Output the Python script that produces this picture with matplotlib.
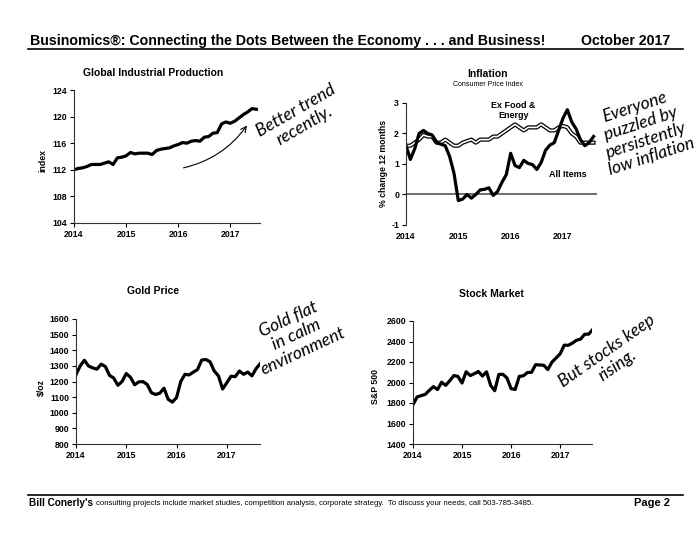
import numpy as np
import matplotlib
matplotlib.use("Agg")
import matplotlib.pyplot as plt

plt.rcParams['font.family'] = ['Liberation Sans', 'DejaVu Sans']
plt.rcParams['axes.unicode_minus'] = False

# Data (monthly, starting Jan 2014)
ip_index = [112.0, 112.2, 112.3, 112.5, 112.8, 112.8, 112.8, 113.0, 113.2, 112.8, 113.8, 113.9,
            114.1, 114.6, 114.4, 114.5, 114.5, 114.5, 114.3, 114.9, 115.1, 115.2, 115.3, 115.6,
            115.8, 116.1, 116.0, 116.3, 116.4, 116.3, 116.9, 117.0, 117.5, 117.6, 118.9, 119.2,
            119.0, 119.3, 119.8, 120.3, 120.7, 121.2, 121.1]

cpi_all = [1.6, 1.15, 1.5, 2.0, 2.1, 2.0, 1.95, 1.7, 1.65, 1.6, 1.25, 0.7,
           -0.2, -0.15, 0.0, -0.12, 0.0, 0.15, 0.17, 0.22, -0.03, 0.1, 0.4, 0.65,
           1.35, 0.95, 0.88, 1.12, 1.02, 0.98, 0.82, 1.05, 1.45, 1.62, 1.7, 2.1,
           2.5, 2.78, 2.38, 2.15, 1.8, 1.6, 1.7, 1.9]
cpi_core = [1.6, 1.6, 1.7, 1.8, 1.95, 1.9, 1.9, 1.7, 1.7, 1.8, 1.7, 1.6,
            1.6, 1.7, 1.75, 1.8, 1.7, 1.8, 1.8, 1.8, 1.9, 1.9, 2.0, 2.1,
            2.2, 2.3, 2.2, 2.1, 2.2, 2.2, 2.2, 2.3, 2.2, 2.1, 2.1, 2.2,
            2.25, 2.2, 2.0, 1.9, 1.7, 1.7, 1.7, 1.7]

gold = [1244, 1300, 1336, 1299, 1287, 1279, 1311, 1296, 1239, 1222, 1176, 1200,
        1251, 1227, 1179, 1198, 1199, 1181, 1128, 1117, 1125, 1157, 1086, 1068,
        1097, 1200, 1246, 1242, 1260, 1276, 1337, 1341, 1326, 1267, 1236, 1152,
        1192, 1234, 1231, 1267, 1246, 1260, 1236, 1283, 1315]

sp500 = [1783, 1859, 1872, 1884, 1924, 1960, 1931, 2003, 1972, 2018, 2068, 2059,
         1995, 2105, 2068, 2086, 2107, 2063, 2104, 1972, 1920, 2079, 2080, 2044,
         1940, 1932, 2060, 2065, 2097, 2099, 2174, 2171, 2168, 2126, 2199, 2239,
         2279, 2364, 2363, 2384, 2412, 2423, 2470, 2472, 2519]

years = [2014, 2015, 2016, 2017]

W, H = 700, 541
fig = plt.figure(figsize=(7, 5.41), dpi=100)


def box(l, t, r, b):
    return [l / W, 1 - b / H, (r - l) / W, (b - t) / H]


def ft(x, y, s, **kw):
    fig.text(x / W, 1 - y / H, s, **kw)


def months(vals):
    return 2014 + np.arange(len(vals)) / 12


def style(ax, yticks, xmax):
    ax.set_xlim(2014, xmax)
    ax.set_ylim(yticks[0], yticks[-1])
    ax.set_yticks(yticks)
    ax.set_xticks(years)
    for s in ['top', 'right']:
        ax.spines[s].set_visible(False)
    for s in ['left', 'bottom']:
        ax.spines[s].set_linewidth(0.8)
        ax.spines[s].set_color('#333333')
    ax.tick_params(length=3, width=0.8, pad=2, labelsize=6.3)
    for lab in ax.get_xticklabels() + ax.get_yticklabels():
        lab.set_fontweight('bold')
    ax.patch.set_alpha(0)


# Header
ft(30, 41, "Businomics\u00ae: Connecting the Dots Between the Economy . . . and Business!",
   fontsize=10.2, fontweight='bold', va='center', ha='left')
ft(670, 41, "October 2017", fontsize=10.2, fontweight='bold', va='center', ha='right')
fig.add_artist(plt.Line2D([28 / W, 683 / W], [1 - 49 / H, 1 - 49 / H], color='black', lw=1.2))

# Footer
fig.add_artist(plt.Line2D([28 / W, 683 / W], [1 - 495 / H, 1 - 495 / H], color='black', lw=1.2))
ft(29, 503, "Bill Conerly's", fontsize=7.2, va='center', ha='left', fontweight='bold')
ft(96, 503.5, "consulting projects include market studies, competition analysis, corporate strategy.  "
   "To discuss your needs, call 503-785-3485.", fontsize=5.6, va='center', ha='left')
ft(670, 503, "Page 2", fontsize=8, va='center', ha='right', fontweight='bold')

hand = dict(family=['Lato', 'DejaVu Sans'], style='italic', fontsize=12.5,
            color='black', ha='center', va='center', linespacing=1.1)

# Panel 1: Global Industrial Production
ax1 = fig.add_axes(box(74, 90, 260, 223))
ax1.plot(months(ip_index), ip_index, color='black', lw=2.3)
style(ax1, [104, 108, 112, 116, 120, 124], 2017.57)
ft(153, 73, "Global Industrial Production", fontsize=7.5, fontweight='bold', ha='center', va='center')
ft(43, 160, "index", fontsize=6.3, fontweight='bold', rotation=90, ha='center', va='center')
ax1.annotate("", xy=(2017.35, 119.0), xytext=(2016.05, 112.2), xycoords='data',
             arrowprops=dict(arrowstyle='->', color='black', lw=0.8,
                             connectionstyle='arc3,rad=0.2'), annotation_clip=False)
ft(300, 118, "Better trend\nrecently.", rotation=30, **hand)

# Panel 2: Inflation
ax2 = fig.add_axes(box(406, 103, 597, 225))
x_cpi = months(cpi_all)
ax2.axhline(0, color='#555555', lw=1.2)
ax2.plot(x_cpi, cpi_core, color='black', lw=3.0)
ax2.plot(x_cpi, cpi_core, color='white', lw=1.2)
ax2.plot(x_cpi, cpi_all, color='black', lw=2.3)
style(ax2, [-1, 0, 1, 2, 3], 2017.65)
ax2.spines['bottom'].set_visible(False)
ax2.tick_params(axis='x', length=0, pad=5)
ax2.text(2016.05, 2.75, "Ex Food &\nEnergy", fontsize=6.5, fontweight='bold', ha='center', va='center')
ax2.text(2017.1, 0.65, "All Items", fontsize=6.5, fontweight='bold', ha='center', va='center')
ft(488, 74, "Inflation", fontsize=7.5, fontweight='bold', ha='center', va='center')
ft(488, 84, "Consumer Price Index", fontsize=5, ha='center', va='center')
ft(383, 163, "% change 12 months", fontsize=6.3, fontweight='bold', rotation=90, ha='center', va='center')
ft(643, 132, "Everyone\npuzzled by\npersistently\nlow inflation", rotation=18, **hand)

# Panel 3: Gold Price
ax3 = fig.add_axes(box(76, 319, 260, 444))
ax3.plot(months(gold), gold, color='black', lw=2.3)
style(ax3, list(range(800, 1700, 100)), 2017.66)
ft(153, 291, "Gold Price", fontsize=7.5, fontweight='bold', ha='center', va='center')
ft(41, 387, "$/oz", fontsize=6.3, fontweight='bold', rotation=90, ha='center', va='center')
ft(296, 335, "Gold flat\nin calm\nenvironment", rotation=25, **hand)

# Panel 4: Stock Market
ax4 = fig.add_axes(box(413, 321, 592, 444))
ax4.plot(months(sp500), sp500, color='black', lw=2.3)
style(ax4, [1400, 1600, 1800, 2000, 2200, 2400, 2600], 2017.65)
ft(491, 294, "Stock Market", fontsize=7.5, fontweight='bold', ha='center', va='center')
ft(376, 386, "S&P 500", fontsize=6.3, fontweight='bold', rotation=90, ha='center', va='center')
ft(612, 358, "But stocks keep\nrising.", rotation=35, **hand)

fig.savefig("out.png", dpi=100)
